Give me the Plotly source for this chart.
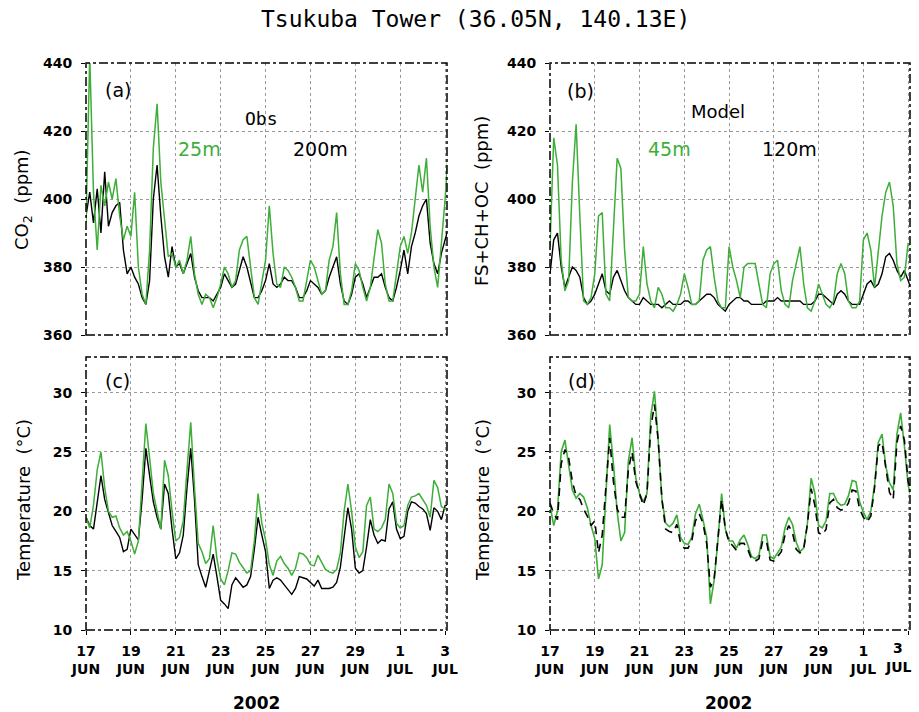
import plotly.graph_objects as go
from datetime import datetime, timedelta

# ---------------- data (4-hourly samples from 17 Jun 2002 00:00) ----------------
start = datetime(2002, 6, 17)
n_pts = 98
times = [start + timedelta(hours=4 * i) for i in range(n_pts)]

co2_obs_25m = [393, 442, 402, 385, 404, 398, 405, 400, 406, 395,
               388, 392, 389, 402, 380, 372, 369, 385, 415, 428,
               405, 395, 383, 384, 380, 382, 378, 382, 389, 378,
               372, 369, 372, 371, 368, 371, 375, 380, 378, 374,
               376, 385, 388, 389, 380, 371, 369, 376, 382, 398,
               384, 375, 374, 380, 379, 377, 374, 370, 370, 376,
               382, 380, 376, 372, 373, 382, 386, 396, 378, 369,
               369, 373, 381, 379, 374, 370, 374, 382, 391, 387,
               375, 370, 370, 378, 386, 389, 384, 390, 400, 410,
               402, 412, 392, 380, 374, 388, 400, 417]
co2_obs_200m = [395, 402, 393, 403, 390, 408, 392, 396, 398, 399,
                385, 378, 380, 377, 375, 371, 369, 376, 400, 410,
                395, 383, 377, 386, 380, 381, 378, 381, 384, 377,
                373, 371, 371, 371, 370, 372, 374, 378, 376, 374,
                375, 379, 383, 380, 375, 371, 371, 373, 376, 381,
                375, 374, 375, 377, 376, 376, 374, 371, 371, 373,
                376, 375, 374, 372, 373, 377, 380, 383, 375, 370,
                369, 372, 377, 378, 375, 371, 374, 377, 377, 378,
                374, 371, 370, 374, 379, 385, 378, 386, 390, 395,
                398, 400, 387, 381, 378, 384, 388, 392]
co2_mod_45m = [386, 418, 410, 382, 373, 376, 405, 422, 395, 370,
               369, 371, 378, 395, 396, 372, 370, 392, 412, 409,
               385, 371, 370, 370, 372, 386, 375, 370, 368, 374,
               372, 368, 368, 367, 369, 372, 378, 374, 369, 369,
               370, 382, 385, 386, 377, 370, 368, 368, 386, 380,
               376, 371, 380, 381, 381, 381, 375, 369, 368, 378,
               381, 382, 373, 369, 368, 376, 381, 386, 375, 368,
               367, 370, 375, 372, 369, 368, 370, 378, 381, 378,
               370, 368, 368, 370, 388, 390, 385, 374, 385, 395,
               402, 405, 398, 381, 376, 377, 387, 386]
co2_mod_120m = [378, 388, 390, 380, 374, 377, 380, 379, 377, 371,
                369, 370, 372, 375, 378, 373, 372, 377, 379, 376,
                373, 371, 370, 369, 369, 371, 370, 369, 369, 369,
                368, 369, 370, 369, 369, 369, 370, 370, 369, 369,
                370, 371, 372, 372, 371, 369, 368, 367, 369, 370,
                371, 371, 370, 370, 369, 369, 369, 369, 370, 370,
                370, 371, 370, 370, 370, 370, 370, 370, 369, 369,
                369, 370, 372, 372, 371, 370, 369, 372, 373, 372,
                370, 369, 369, 369, 372, 375, 376, 374, 375, 378,
                383, 384, 382, 379, 377, 379, 376, 373]
temp_obs_25m = [19.5, 18.6, 20.5, 23.5, 25.0, 22.0, 20.0, 19.5, 19.6, 18.6,
                18.0, 18.3, 17.5, 16.4, 17.5, 23.0, 27.4, 24.5, 21.5, 20.0,
                18.5, 24.3, 23.0, 20.0, 17.5, 17.8, 19.2, 23.5, 27.5, 22.0,
                17.3, 16.6, 15.6, 16.0, 18.8, 16.0, 14.3, 13.8, 15.0, 16.5,
                16.4, 15.7, 15.2, 14.8, 15.0, 17.5, 21.5, 19.0, 17.6, 15.5,
                14.6, 15.8, 16.2, 15.6, 15.2, 14.6, 15.2, 16.5, 16.4, 16.1,
                15.5, 15.4, 16.3, 15.7, 15.1, 14.9, 14.8, 15.1, 16.5, 20.0,
                22.3, 20.0, 17.0, 16.1, 16.6, 20.5, 21.2, 18.5, 18.3, 18.6,
                19.3, 22.3, 21.5, 19.0, 18.6, 18.8, 20.5, 21.2, 21.3, 21.5,
                21.0, 20.5, 19.5, 22.6, 22.0, 20.4, 20.2, 20.3]
temp_obs_200m = [19.5, 18.8, 18.5, 21.0, 23.0, 21.0, 19.8, 18.8, 18.3, 17.8,
                 16.6, 16.8, 18.5, 18.0, 17.6, 21.0, 25.3, 23.0, 20.8, 19.5,
                 18.5, 22.3, 21.5, 18.5, 16.0, 16.5, 18.0, 22.0, 25.3, 21.0,
                 15.5, 14.5, 13.6, 15.0, 16.4, 14.5, 12.5, 12.2, 11.8, 13.8,
                 14.4, 14.0, 13.6, 13.8, 14.5, 16.8, 19.5, 18.0, 16.6, 13.5,
                 14.2, 14.4, 14.2, 13.8, 13.4, 13.0, 13.5, 14.5, 14.4, 14.3,
                 14.0, 13.7, 14.2, 13.5, 13.5, 13.5, 13.6, 14.0, 15.3, 18.0,
                 20.3, 18.5, 15.2, 14.8, 15.0, 17.0, 19.3, 18.0, 17.3, 17.6,
                 17.5, 20.2, 20.8, 18.5, 17.7, 17.9, 20.0, 20.8, 20.7, 20.4,
                 20.2, 19.8, 18.4, 20.3, 20.0, 19.3, 20.5, 20.5]
temp_mod_45m = [20.5, 18.8, 20.0, 25.0, 26.0, 24.0, 21.8, 21.1, 21.5, 21.2,
                20.3, 18.8, 17.7, 14.3, 15.5, 21.5, 27.3, 24.0, 20.0, 17.5,
                18.2, 24.2, 26.2, 22.8, 21.5, 20.8, 21.5, 28.0, 30.1, 26.0,
                21.0, 19.0, 18.7, 19.0, 19.7, 17.8, 17.3, 17.2, 17.8, 19.8,
                20.6, 19.3, 17.8, 12.2, 14.2, 17.5, 21.5, 18.5, 17.5, 17.5,
                16.9, 17.6, 18.0, 17.2, 16.2, 16.0, 16.3, 18.0, 18.0, 16.2,
                16.0, 16.5, 17.0, 18.6, 19.5, 18.9, 17.4, 16.6, 16.9, 19.0,
                22.8, 21.5, 18.8, 18.6, 19.2, 21.5, 21.5, 20.8, 20.5, 20.6,
                21.3, 22.6, 22.5, 20.8, 19.9, 19.3, 20.0, 22.2, 25.8, 26.5,
                23.8, 22.4, 21.8, 26.5, 28.3, 25.5, 22.2, 21.0]
temp_mod_120m = [20.7, 19.8, 19.3, 24.0, 25.2, 24.5, 22.5, 21.3, 21.0, 20.2,
                 19.6, 18.8, 19.2, 16.5, 18.0, 22.5, 26.2, 22.5, 20.2, 19.5,
                 19.5, 23.5, 25.0, 22.5, 21.5, 20.5, 21.5, 27.0, 29.0, 26.0,
                 21.0, 18.5, 18.3, 18.2, 18.9, 17.3, 16.9, 16.9, 17.5, 19.2,
                 19.8, 19.0, 17.3, 13.6, 14.3, 17.5, 21.0, 18.5, 17.4, 17.1,
                 16.7, 17.3, 17.3, 16.8, 16.0, 15.8, 16.0, 17.5, 17.5, 15.9,
                 15.8, 16.2, 16.6, 18.0, 18.8, 18.2, 16.8, 16.5, 16.8, 18.9,
                 21.9, 20.5, 18.2, 18.0, 18.5, 20.7, 21.0, 20.3, 20.1, 20.2,
                 20.7, 21.8, 21.7, 20.2, 19.5, 19.1, 19.6, 22.0, 25.5, 25.8,
                 23.5, 21.6, 21.0, 25.8, 27.2, 26.0, 22.5, 21.5]

tick_dates = [datetime(2002, 6, d) for d in (17, 19, 21, 23, 25, 27, 29)] + \
             [datetime(2002, 7, 1), datetime(2002, 7, 3)]
tick_days = ["17", "19", "21", "23", "25", "27", "29", "1", "3"]
tick_months = ["JUN"] * 7 + ["JUL"] * 2
tick_labels = [f"{d}<br>{m}" for d, m in zip(tick_days, tick_months)]
co2_ticks = [360, 380, 400, 420, 440]
temp_ticks = [10, 15, 20, 25, 30]

# ---------------- styling ----------------
W, H = 919, 712
GREEN = "#3dae38"
x_range = [start, datetime(2002, 7, 3, 2)]
# right-hand panel: last label is placed as annotations (nudged inward)
tick_labels_right = tick_labels[:-1] + [""]


def px_x(p):
    return p / W


def px_y(p):
    return 1 - p / H


dom_left = [px_x(86), px_x(447)]
dom_right = [px_x(550), px_x(910)]
dom_top = [px_y(335), px_y(63)]
dom_bot = [px_y(630), px_y(357)]

tick_font = dict(family="DejaVu Sans", size=14, color="black", weight="bold")

fig = go.Figure()

panels = [
    ("x", "y", co2_obs_25m, co2_obs_200m, "solid"),
    ("x2", "y2", co2_mod_45m, co2_mod_120m, "solid"),
    ("x3", "y3", temp_obs_25m, temp_obs_200m, "solid"),
    ("x4", "y4", temp_mod_45m, temp_mod_120m, "dash"),
]
for xa, ya, g, k, kdash in panels:
    if kdash == "solid":
        fig.add_trace(go.Scatter(x=times, y=k, xaxis=xa, yaxis=ya, mode="lines",
                                 line=dict(color="black", width=1.4), showlegend=False))
        fig.add_trace(go.Scatter(x=times, y=g, xaxis=xa, yaxis=ya, mode="lines",
                                 line=dict(color=GREEN, width=1.5), showlegend=False))
    else:
        fig.add_trace(go.Scatter(x=times, y=g, xaxis=xa, yaxis=ya, mode="lines",
                                 line=dict(color=GREEN, width=1.6), showlegend=False))
        fig.add_trace(go.Scatter(x=times, y=k, xaxis=xa, yaxis=ya, mode="lines",
                                 line=dict(color="black", width=1.6, dash="8px,6px"),
                                 showlegend=False))


def xaxis(domain, anchor, labels, ttext):
    return dict(domain=domain, anchor=anchor, type="date", range=x_range,
                tickvals=tick_dates, ticktext=ttext, showticklabels=labels,
                tickfont=tick_font, ticks="outside" if labels else "", ticklen=4,
                tickcolor="black", ticklabelstandoff=4, automargin=False,
                showgrid=True, gridcolor="#9a9a9a", griddash="dot", gridwidth=1,
                zeroline=False, showline=False)


def yaxis(domain, anchor, rng, ticks):
    return dict(domain=domain, anchor=anchor, range=rng, tickvals=ticks,
                tickfont=tick_font, ticks="outside", ticklen=4, tickcolor="black",
                ticklabelstandoff=6, automargin=False,
                showgrid=True, gridcolor="#9a9a9a", griddash="dot", gridwidth=1,
                zeroline=False, showline=False)


fig.update_layout(
    width=W, height=H, autosize=False,
    margin=dict(l=0, r=0, t=0, b=0),
    paper_bgcolor="white", plot_bgcolor="white",
    xaxis=xaxis(dom_left, "y", False, tick_labels),
    yaxis=yaxis(dom_top, "x", [360, 440], co2_ticks),
    xaxis2=xaxis(dom_right, "y2", False, tick_labels),
    yaxis2=yaxis(dom_top, "x2", [360, 440], co2_ticks),
    xaxis3=xaxis(dom_left, "y3", True, tick_labels),
    yaxis3=yaxis(dom_bot, "x3", [10, 33], temp_ticks),
    xaxis4=xaxis(dom_right, "y4", True, tick_labels_right),
    yaxis4=yaxis(dom_bot, "x4", [10, 33], temp_ticks),
)

# dash-dot frames
for xa, ya in [("x", "y"), ("x2", "y2"), ("x3", "y3"), ("x4", "y4")]:
    fig.add_shape(type="rect", xref=f"{xa} domain", yref=f"{ya} domain",
                  x0=0, x1=1, y0=0, y1=1, layer="above",
                  line=dict(color="black", width=1.5, dash="dashdot"))

ann = []


def text(x, y, s, size=18, color="black", family="DejaVu Sans", angle=0, weight="normal"):
    ann.append(dict(x=px_x(x), y=px_y(y), xref="paper", yref="paper", text=s,
                    showarrow=False, textangle=angle, xanchor="center", yanchor="middle",
                    font=dict(family=family, size=size, color=color, weight=weight)))


text(475, 19, "Tsukuba Tower (36.05N, 140.13E)", size=23, family="DejaVu Sans Mono")
text(118, 90, "(a)", size=19)
text(261, 118, "Obs", size=18, family="DejaVu Sans Mono")
text(199, 149, "25m", size=19, color=GREEN)
text(320, 149, "200m", size=19)
text(580, 91, "(b)", size=19)
text(718, 112, "Model", size=18)
text(669, 149, "45m", size=19, color=GREEN)
text(789, 149, "120m", size=19)
text(117, 381, "(c)", size=19)
text(581, 381, "(d)", size=19)
text(23, 200, "CO<sub>2</sub>  (ppm)", size=18, angle=-90)
text(482, 201, "FS+CH+OC  (ppm)", size=18, angle=-90)
text(23, 500, "Temperature  (°C)", size=18, angle=-90)
text(482, 500, "Temperature  (°C)", size=18, angle=-90)
text(256, 703, "2002", size=17, weight="bold")
text(728, 703, "2002", size=17, weight="bold")

# last tick label of panel (d), anchored to its date and nudged inside the page
for line_txt, ypx in ((tick_days[-1], 648), (tick_months[-1], 667)):
    ann.append(dict(x=tick_dates[-1], xref="x4", y=px_y(ypx), yref="paper",
                    text=line_txt, showarrow=False, xanchor="center", yanchor="middle",
                    xshift=-10, font=tick_font))
fig.update_layout(annotations=ann)

fig.write_html("out.html")
